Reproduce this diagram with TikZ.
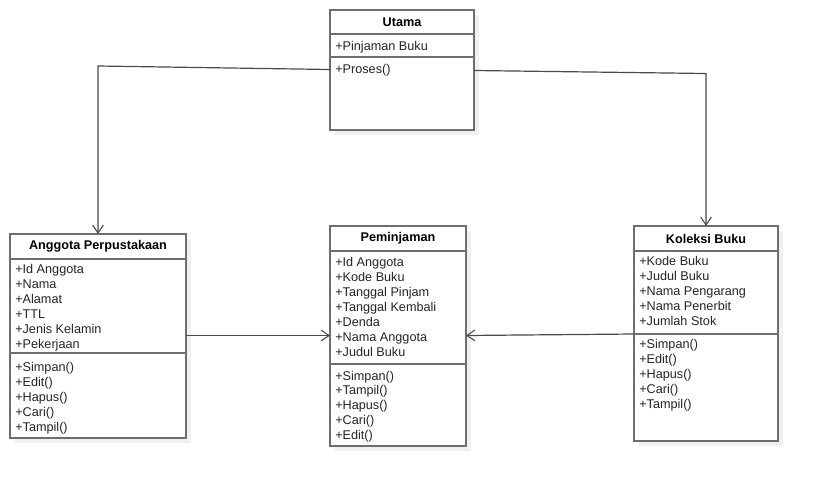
\documentclass[tikz,border=0pt]{standalone}
\usepackage{fontspec}
\setmainfont{Liberation Sans}
\usetikzlibrary{arrows.meta}
\definecolor{boxline}{HTML}{6E6E6E}
\definecolor{shadowgray}{HTML}{F0F0F0}
\definecolor{connline}{HTML}{4A4A4A}
\tikzset{
  classbox/.style={draw=boxline, line width=1.5pt, fill=white, rectangle, anchor=north west, inner sep=0pt, outer sep=0pt},
  boxshadow/.style={fill=shadowgray, draw=none},
  sepline/.style={draw=boxline, line width=1.3pt},
  ctitle/.style={font=\bfseries\fontsize{9.5}{11}\selectfont, anchor=center, inner sep=0pt},
  citem/.style={font=\fontsize{9.5}{11}\selectfont, anchor=base west, inner sep=0pt, text=black!85},
  conn/.style={draw=connline, line width=0.9pt, -{Straight Barb[length=6pt,width=8pt,line width=0.8pt]}},
}
\begin{document}
\begin{tikzpicture}[x=0.75pt,y=-0.75pt]
\useasboundingbox (0,0) rectangle (818,486);
% shadows
\path[boxshadow] (335,15) rectangle (479,135);
\path[boxshadow] (15,239) rectangle (191,443);
\path[boxshadow] (335,231) rectangle (471,451);
\path[boxshadow] (639,231) rectangle (783,446);
% boxes
\node[classbox, minimum width=108pt, minimum height=90pt] (utama) at (330,10) {};
\node[classbox, minimum width=132pt, minimum height=153pt] (anggota) at (10,234) {};
\node[classbox, minimum width=102pt, minimum height=165pt] (pinjam) at (330,226) {};
\node[classbox, minimum width=108pt, minimum height=161.25pt] (koleksi) at (634,226) {};
% separators
\draw[sepline] (utama.west |- 0,34) -- (utama.east |- 0,34);
\draw[sepline] (utama.west |- 0,57) -- (utama.east |- 0,57);
\draw[sepline] (anggota.west |- 0,259) -- (anggota.east |- 0,259);
\draw[sepline] (anggota.west |- 0,353) -- (anggota.east |- 0,353);
\draw[sepline] (pinjam.west |- 0,251) -- (pinjam.east |- 0,251);
\draw[sepline] (pinjam.west |- 0,364) -- (pinjam.east |- 0,364);
\draw[sepline] (koleksi.west |- 0,251) -- (koleksi.east |- 0,251);
\draw[sepline] (koleksi.west |- 0,334) -- (koleksi.east |- 0,334);
% titles
\node[ctitle] (utama-t) at (402,22) {Utama};
\node[ctitle] (anggota-t) at (98,246.5) {Anggota Perpustakaan};
\node[ctitle] (pinjam-t) at (398,238.5) {Peminjaman};
\node[ctitle] (koleksi-t) at (706,238.5) {Koleksi Buku};
% items
\node[citem] (utama-a1) at (335,50) {+Pinjaman Buku};
\node[citem] (utama-m1) at (335,73) {+Proses()};
\foreach \t [count=\i] in {+Id Anggota,+Nama,+Alamat,+TTL,+Jenis Kelamin,+Pekerjaan}
  \node[citem] (anggota-a\i) at (15,{273.5+(\i-1)*14.9}) {\t};
\foreach \t [count=\i] in {+Simpan(),+Edit(),+Hapus(),+Cari(),+Tampil()}
  \node[citem] (anggota-m\i) at (15,{371+(\i-1)*15}) {\t};
\foreach \t [count=\i] in {+Id Anggota,+Kode Buku,+Tanggal Pinjam,+Tanggal Kembali,+Denda,+Nama Anggota,+Judul Buku}
  \node[citem] (pinjam-a\i) at (335,{266+(\i-1)*15}) {\t};
\foreach \t [count=\i] in {+Simpan(),+Tampil(),+Hapus(),+Cari(),+Edit()}
  \node[citem] (pinjam-m\i) at (335,{380+(\i-1)*14.8}) {\t};
\foreach \t [count=\i] in {+Kode Buku,+Judul Buku,+Nama Pengarang,+Nama Penerbit,+Jumlah Stok}
  \node[citem] (koleksi-a\i) at (639,{265.5+(\i-1)*15}) {\t};
\foreach \t [count=\i] in {+Simpan(),+Edit(),+Hapus(),+Cari(),+Tampil()}
  \node[citem] (koleksi-m\i) at (639,{348.5+(\i-1)*15}) {\t};
% connectors
\coordinate (c1) at (98,66);
\coordinate (c2) at (706,73.5);
\draw[conn] (utama.west |- 0,69.5) -- (c1) -- (c1 |- anggota.north);
\draw[conn] (utama.east |- 0,70.5) -- (c2) -- (c2 |- koleksi.north);
\draw[conn] (anggota.east |- 0,335.5) -- (pinjam.west |- 0,335.5);
\draw[conn] (koleksi.west |- 0,334) -- (pinjam.east |- 0,335.5);
\end{tikzpicture}
\end{document}
